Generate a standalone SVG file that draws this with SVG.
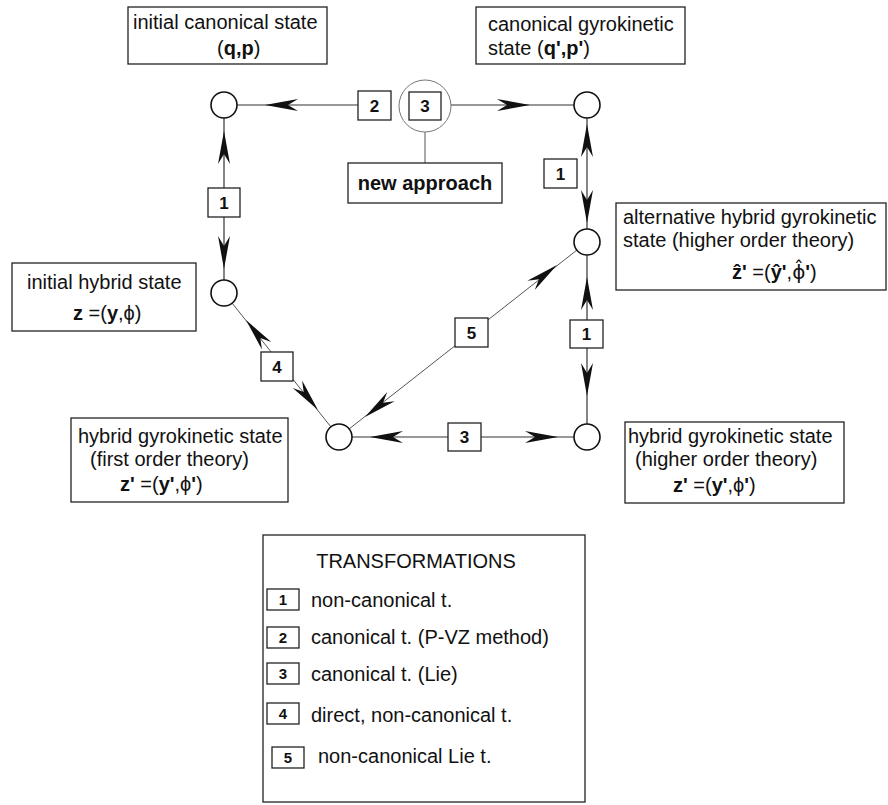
<svg xmlns="http://www.w3.org/2000/svg" width="888" height="805" viewBox="0 0 888 805">
<defs>
<style>
text { font-family: "Liberation Sans", Arial, "DejaVu Sans", sans-serif; fill: #111; }
.t { font-size: 20px; }
.b { font-weight: bold; }
.dj { font-family: "DejaVu Sans", sans-serif; }
.box { fill: #fff; stroke: #222; stroke-width: 1.3; }
.node { fill: #fff; stroke: #111; stroke-width: 1.6; }
.line { stroke: #333; stroke-width: 1.2; fill: none; }
.diag { stroke: #555; stroke-width: 1; fill: none; }
.gray { fill: #fff; stroke: #777; stroke-width: 1; }
.num { font-size: 17px; font-weight: bold; text-anchor: middle; }
.lnum { font-size: 15px; font-weight: bold; text-anchor: middle; }
.ah { fill: #111; }
</style>
<path id="ah" d="M0,0 L-33,-6 L-23,0 L-33,6 Z"/>
</defs>
<rect width="888" height="805" fill="#fff"/>

<g id="connectors">
  <line class="line" x1="237" y1="105" x2="358" y2="105"/>
  <line class="line" x1="451" y1="105" x2="574" y2="105"/>
  <line class="line" x1="224" y1="118" x2="224" y2="280"/>
  <line class="line" x1="587" y1="118" x2="587" y2="229"/>
  <line class="line" x1="587" y1="255" x2="587" y2="424"/>
  <line class="line" x1="352" y1="437" x2="574" y2="437"/>
  <line class="diag" x1="232" y1="303" x2="331" y2="427"/>
  <line class="diag" x1="577" y1="250" x2="349" y2="429"/>
  <line class="diag" x1="425" y1="132" x2="425" y2="163"/>

  <use href="#ah" class="ah" transform="translate(265,105) rotate(180)"/>
  <use href="#ah" class="ah" transform="translate(530,105)"/>
  <use href="#ah" class="ah" transform="translate(224,131) rotate(-90)"/>
  <use href="#ah" class="ah" transform="translate(224,269) rotate(90)"/>
  <use href="#ah" class="ah" transform="translate(587,124) rotate(-90)"/>
  <use href="#ah" class="ah" transform="translate(587,223) rotate(90)"/>
  <use href="#ah" class="ah" transform="translate(587,277) rotate(-90)"/>
  <use href="#ah" class="ah" transform="translate(587,396) rotate(90)"/>
  <use href="#ah" class="ah" transform="translate(370,437) rotate(180)"/>
  <use href="#ah" class="ah" transform="translate(558,437)"/>
  <use href="#ah" class="ah" transform="translate(246,320) rotate(-128.6)"/>
  <use href="#ah" class="ah" transform="translate(318,410) rotate(51.4)"/>
  <use href="#ah" class="ah" transform="translate(557,265) rotate(-38.2)"/>
  <use href="#ah" class="ah" transform="translate(365,417) rotate(141.8)"/>

  <g id="lbl-1a"><rect class="box" x="208" y="188" width="32" height="29"/><text class="num" x="224" y="209">1</text></g>
  <g id="lbl-2"><rect class="box" x="358" y="91" width="33" height="29"/><text class="num" x="374.5" y="112">2</text></g>
  <g id="lbl-1b"><rect class="box" x="544" y="159" width="33" height="29"/><text class="num" x="560.5" y="180">1</text></g>
  <g id="lbl-1c"><rect class="box" x="570" y="320" width="33" height="28"/><text class="num" x="586.5" y="340">1</text></g>
  <g id="lbl-5"><rect class="box" x="455" y="318" width="33" height="29"/><text class="num" x="471.5" y="339">5</text></g>
  <g id="lbl-3b"><rect class="box" x="448" y="423" width="33" height="28"/><text class="num" x="464.5" y="443">3</text></g>
  <g id="lbl-4"><rect class="box" x="261" y="352" width="32" height="29"/><text class="num" x="277" y="373">4</text></g>
</g>

<g id="new-approach">
  <circle class="gray" cx="425" cy="106" r="26"/>
  <rect class="box" x="409" y="92" width="32" height="28"/>
  <text class="num" x="425" y="112">3</text>
  <rect class="box" x="348" y="163" width="154" height="40"/>
  <text class="t b" x="425" y="190" text-anchor="middle">new approach</text>
</g>

<g id="n-initial-canonical">
  <circle class="node" cx="224" cy="105" r="13"/>
  <rect class="box" x="128" y="7" width="199" height="57"/>
  <text class="t" x="133" y="29">initial canonical state</text>
  <text class="t" x="217" y="55">(<tspan class="b">q,p</tspan>)</text>
</g>

<g id="n-canonical-gyrokinetic">
  <circle class="node" cx="587" cy="105" r="13"/>
  <rect class="box" x="476" y="7" width="209" height="57"/>
  <text class="t" x="488" y="31">canonical gyrokinetic</text>
  <text class="t" x="488" y="55">state</text>
  <text class="t" x="537" y="55">(<tspan class="b">q',p'</tspan>)</text>
</g>

<g id="n-alternative">
  <circle class="node" cx="587" cy="242" r="13"/>
  <rect class="box" x="616" y="203" width="270" height="87"/>
  <text class="t" x="623" y="224">alternative hybrid gyrokinetic</text>
  <text class="t" x="623" y="247">state (higher order theory)</text>
  <text class="t" x="732" y="279"><tspan class="b">z&#770;'</tspan> =(<tspan class="b">y&#770;'</tspan>,<tspan class="dj">ϕ&#770;</tspan><tspan class="b">'</tspan>)</text>
</g>

<g id="n-initial-hybrid">
  <circle class="node" cx="224" cy="293" r="13"/>
  <rect class="box" x="12" y="263" width="184" height="68"/>
  <text class="t" x="27" y="289">initial hybrid state</text>
  <text class="t" x="73" y="320"><tspan class="b">z</tspan> =(<tspan class="b">y</tspan>,ϕ)</text>
</g>

<g id="n-hybrid-first">
  <circle class="node" cx="339" cy="437" r="13"/>
  <rect class="box" x="71" y="418" width="217" height="84"/>
  <text class="t" x="78" y="443">hybrid gyrokinetic state</text>
  <text class="t" x="90" y="466">(first order theory)</text>
  <text class="t" x="120" y="491"><tspan class="b">z'</tspan> =(<tspan class="b">y'</tspan>,ϕ<tspan class="b">'</tspan>)</text>
</g>

<g id="n-hybrid-higher">
  <circle class="node" cx="587" cy="437" r="13"/>
  <rect class="box" x="625" y="422" width="219" height="81"/>
  <text class="t" x="628" y="443">hybrid gyrokinetic state</text>
  <text class="t" x="635" y="466">(higher order theory)</text>
  <text class="t" x="673" y="492"><tspan class="b">z'</tspan> =(<tspan class="b">y'</tspan>,ϕ<tspan class="b">'</tspan>)</text>
</g>

<g id="legend">
  <rect class="box" x="263" y="535" width="322" height="267"/>
  <text class="t" x="416" y="568" text-anchor="middle">TRANSFORMATIONS</text>
  <rect class="box" x="267" y="589" width="32" height="21"/><text class="lnum" x="283" y="605">1</text>
  <text class="t" x="311" y="607">non-canonical t.</text>
  <rect class="box" x="267" y="627" width="32" height="21"/><text class="lnum" x="283" y="643">2</text>
  <text class="t" x="311" y="644">canonical t. (P-VZ method)</text>
  <rect class="box" x="267" y="663" width="32" height="21"/><text class="lnum" x="283" y="679">3</text>
  <text class="t" x="311" y="681">canonical t. (Lie)</text>
  <rect class="box" x="267" y="703" width="32" height="21"/><text class="lnum" x="283" y="719">4</text>
  <text class="t" x="311" y="722">direct, non-canonical t.</text>
  <rect class="box" x="272" y="747" width="32" height="21"/><text class="lnum" x="288" y="763">5</text>
  <text class="t" x="318" y="763">non-canonical Lie t.</text>
</g>
</svg>
